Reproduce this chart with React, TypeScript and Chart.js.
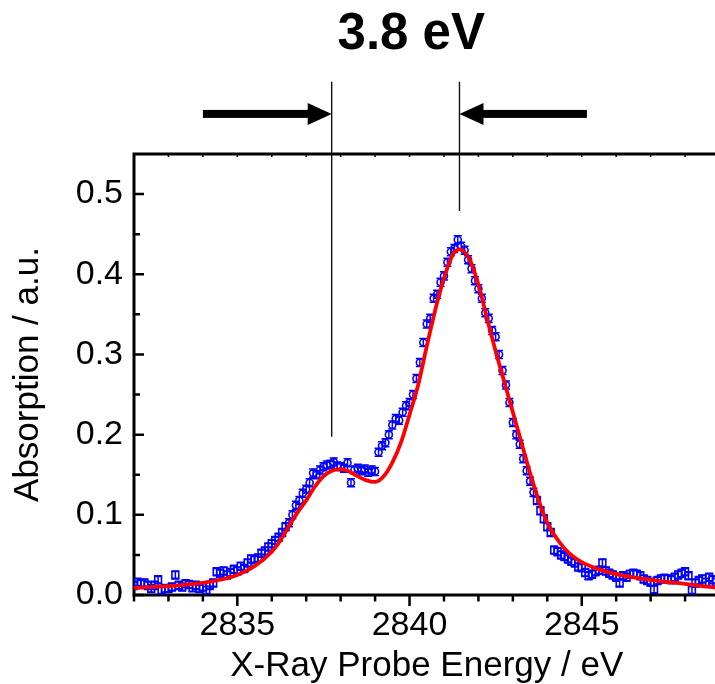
import React, { useEffect, useRef } from "react";
import { Chart, registerables } from "chart.js";

Chart.register(...registerables);

// ---------- data ----------
const probeEnergy = [
  2832.0, 2832.1, 2832.2, 2832.3, 2832.4, 2832.5, 2832.6, 2832.7, 2832.8, 2832.9,
  2833.0, 2833.1, 2833.2, 2833.3, 2833.4, 2833.5, 2833.6, 2833.7, 2833.8, 2833.9,
  2834.0, 2834.1, 2834.2, 2834.3, 2834.4, 2834.5, 2834.6, 2834.7, 2834.8, 2834.9,
  2835.0, 2835.1, 2835.2, 2835.3, 2835.4, 2835.5, 2835.6, 2835.7, 2835.8, 2835.9,
  2836.0, 2836.1, 2836.2, 2836.3, 2836.4, 2836.5, 2836.6, 2836.7, 2836.8, 2836.9,
  2837.0, 2837.1, 2837.2, 2837.3, 2837.4, 2837.5, 2837.6, 2837.7, 2837.8, 2837.9,
  2838.0, 2838.1, 2838.2, 2838.3, 2838.4, 2838.5, 2838.6, 2838.7, 2838.8, 2838.9,
  2839.0, 2839.1, 2839.2, 2839.3, 2839.4, 2839.5, 2839.6, 2839.7, 2839.8, 2839.9,
  2840.0, 2840.1, 2840.2, 2840.3, 2840.4, 2840.5, 2840.6, 2840.7, 2840.8, 2840.9,
  2841.0, 2841.1, 2841.2, 2841.3, 2841.4, 2841.5, 2841.6, 2841.7, 2841.8, 2841.9,
  2842.0, 2842.1, 2842.2, 2842.3, 2842.4, 2842.5, 2842.6, 2842.7, 2842.8, 2842.9,
  2843.0, 2843.1, 2843.2, 2843.3, 2843.4, 2843.5, 2843.6, 2843.7, 2843.8, 2843.9,
  2844.0, 2844.1, 2844.2, 2844.3, 2844.4, 2844.5, 2844.6, 2844.7, 2844.8, 2844.9,
  2845.0, 2845.1, 2845.2, 2845.3, 2845.4, 2845.5, 2845.6, 2845.7, 2845.8, 2845.9,
  2846.0, 2846.1, 2846.2, 2846.3, 2846.4, 2846.5, 2846.6, 2846.7, 2846.8, 2846.9,
  2847.0, 2847.1, 2847.2, 2847.3, 2847.4, 2847.5, 2847.6, 2847.7, 2847.8, 2847.9,
  2848.0, 2848.1, 2848.2, 2848.3, 2848.4, 2848.5, 2848.6, 2848.7, 2848.8, 2848.9,
];

const measuredAbsorption = [
  0.012, 0.016, 0.014, 0.015, 0.012, 0.008, 0.012, 0.019, 0.006, 0.008,
  0.008, 0.010, 0.025, 0.012, 0.010, 0.014, 0.013, 0.009, 0.012, 0.008,
  0.010, 0.006, 0.012, 0.015, 0.029, 0.027, 0.030, 0.025, 0.028, 0.032,
  0.030, 0.036, 0.033, 0.040, 0.045, 0.044, 0.046, 0.052, 0.055, 0.060,
  0.064, 0.068, 0.072, 0.078, 0.085, 0.090, 0.100, 0.112, 0.118, 0.127,
  0.132, 0.140, 0.152, 0.150, 0.156, 0.160, 0.162, 0.163, 0.166, 0.161,
  0.160, 0.158, 0.165, 0.140, 0.156, 0.158, 0.155, 0.157, 0.153, 0.156,
  0.154, 0.178, 0.186, 0.190, 0.200, 0.212, 0.220, 0.218, 0.228, 0.236,
  0.240, 0.250, 0.270, 0.290, 0.315, 0.338, 0.345, 0.370, 0.375, 0.390,
  0.398, 0.415, 0.428, 0.432, 0.443, 0.435, 0.430, 0.418, 0.407, 0.392,
  0.382, 0.370, 0.352, 0.345, 0.330, 0.322, 0.300, 0.280, 0.262, 0.240,
  0.215, 0.200, 0.188, 0.170, 0.155, 0.142, 0.128, 0.118, 0.105, 0.095,
  0.085, 0.078, 0.056, 0.054, 0.050, 0.048, 0.045, 0.042, 0.040, 0.035,
  0.034, 0.028, 0.024, 0.026, 0.029, 0.031, 0.040, 0.030, 0.027, 0.025,
  0.022, 0.015, 0.024, 0.022, 0.026, 0.027, 0.026, 0.024, 0.020, 0.018,
  0.016, 0.007, 0.018, 0.020, 0.021, 0.020, 0.019, 0.022, 0.025, 0.027,
  0.029, 0.024, 0.006, 0.015, 0.018, 0.020, 0.016, 0.022, 0.019, 0.016,
];

const measuredError = 0.005;

const fitEnergy = [
  2832, 2833, 2834, 2834.5, 2835, 2835.5, 2836, 2836.25, 2836.5, 2836.75,
  2837, 2837.25, 2837.5, 2837.75, 2838, 2838.25, 2838.5, 2838.75, 2839, 2839.25,
  2839.5, 2839.75, 2840, 2840.25, 2840.5, 2840.75, 2841, 2841.25, 2841.45, 2841.75,
  2842, 2842.25, 2842.5, 2842.75, 2843, 2843.25, 2843.5, 2843.75, 2844, 2844.25,
  2844.5, 2844.75, 2845, 2845.5, 2846, 2846.5, 2847, 2847.5, 2848, 2848.5, 2849,
];

const fitAbsorption = [
  0.009, 0.011, 0.015, 0.019, 0.025, 0.036, 0.054, 0.068, 0.086, 0.103,
  0.118, 0.135, 0.148, 0.155, 0.157, 0.154, 0.148, 0.143, 0.141, 0.148,
  0.165, 0.190, 0.225, 0.262, 0.310, 0.356, 0.395, 0.424, 0.431, 0.418,
  0.387, 0.345, 0.304, 0.266, 0.228, 0.190, 0.152, 0.118, 0.090, 0.072,
  0.058, 0.048, 0.041, 0.032, 0.026, 0.022, 0.019, 0.016, 0.014, 0.011, 0.009,
];

// axes
const xRange = [2832, 2849];
const yRange = [0, 0.55];
const xTickLabels = [2835, 2840, 2845];
const xMinorTicks = [
  2832, 2833, 2834, 2835, 2836, 2837, 2838, 2839, 2840, 2841,
  2842, 2843, 2844, 2845, 2846, 2847, 2848, 2849,
];
const yTickLabels = [0, 0.1, 0.2, 0.3, 0.4, 0.5];
const yMinorTicks = [0.05, 0.15, 0.25, 0.35, 0.45];

// annotation (peak separation)
const guideEnergies = [2837.74, 2841.45];
const guideBottoms = [0.1975, 0.479];
const guideTop = 0.64;
const arrowTails = [2834.0, 2845.15];
const arrowLevel = 0.6;
const separationText = "3.8 eV";
const separationTextPos = [2840.05, 0.681];

const circleRange = [2836.45, 2843.65];

const FONT = "'Liberation Sans', Arial, Helvetica, sans-serif";
const BLUE = "#0000ff";
const RED = "#ff0000";

const decorPlugin = {
  id: "decor",
  beforeDatasetsDraw(chart: any) {
    const { ctx, chartArea: a, scales } = chart;
    const x = scales.x;
    const y = scales.y;
    ctx.save();
    // error bars
    ctx.beginPath();
    ctx.rect(a.left, a.top, a.right - a.left, a.bottom - a.top);
    ctx.clip();
    ctx.strokeStyle = BLUE;
    ctx.lineWidth = 1.5;
    ctx.beginPath();
    for (let i = 0; i < probeEnergy.length; i++) {
      const px = x.getPixelForValue(probeEnergy[i]);
      const y1 = y.getPixelForValue(measuredAbsorption[i] - measuredError);
      const y2 = y.getPixelForValue(measuredAbsorption[i] + measuredError);
      ctx.moveTo(px, y1);
      ctx.lineTo(px, y2);
      ctx.moveTo(px - 4, y1);
      ctx.lineTo(px + 4, y1);
      ctx.moveTo(px - 4, y2);
      ctx.lineTo(px + 4, y2);
    }
    ctx.stroke();
    ctx.restore();

    // axes frame and ticks
    ctx.save();
    ctx.strokeStyle = "#000";
    ctx.lineCap = "butt";
    ctx.lineWidth = 3;
    ctx.beginPath();
    ctx.moveTo(a.left, a.bottom + 1.5);
    ctx.lineTo(a.left, a.top - 1.5);
    ctx.moveTo(a.left - 1.5, a.top);
    ctx.lineTo(a.right + 2, a.top);
    ctx.moveTo(a.left - 1.5, a.bottom);
    ctx.lineTo(a.right + 2, a.bottom);
    ctx.stroke();

    // left ticks (inward)
    ctx.lineWidth = 2.5;
    ctx.beginPath();
    for (const v of yTickLabels) {
      const py = y.getPixelForValue(v);
      ctx.moveTo(a.left, py);
      ctx.lineTo(a.left + 10, py);
    }
    for (const v of yMinorTicks) {
      const py = y.getPixelForValue(v);
      ctx.moveTo(a.left, py);
      ctx.lineTo(a.left + 6, py);
    }
    ctx.stroke();

    // bottom ticks (outward)
    ctx.lineWidth = 2.5;
    ctx.beginPath();
    for (const v of xMinorTicks) {
      const px = x.getPixelForValue(v);
      const len = xTickLabels.includes(v) ? 11 : 6.5;
      ctx.moveTo(px, a.bottom);
      ctx.lineTo(px, a.bottom + len);
    }
    ctx.stroke();

    // top ticks (small, inward)
    ctx.lineWidth = 1.5;
    ctx.beginPath();
    for (const v of xMinorTicks) {
      const px = x.getPixelForValue(v);
      ctx.moveTo(px, a.top);
      ctx.lineTo(px, a.top + 3);
    }
    ctx.stroke();
    ctx.restore();
  },
  afterDraw(chart: any) {
    const { ctx, scales } = chart;
    const x = scales.x;
    const y = scales.y;
    ctx.save();
    // guide lines
    ctx.strokeStyle = "#111";
    ctx.lineWidth = 1.4;
    ctx.beginPath();
    for (let i = 0; i < guideEnergies.length; i++) {
      const px = x.getPixelForValue(guideEnergies[i]);
      ctx.moveTo(px, y.getPixelForValue(guideTop));
      ctx.lineTo(px, y.getPixelForValue(guideBottoms[i]));
    }
    ctx.stroke();

    // arrows
    ctx.fillStyle = "#000";
    const ay = y.getPixelForValue(arrowLevel);
    for (let i = 0; i < guideEnergies.length; i++) {
      const tip = x.getPixelForValue(guideEnergies[i]);
      const tail = x.getPixelForValue(arrowTails[i]);
      const dir = tail < tip ? 1 : -1;
      const headLen = 24;
      const headBase = tip - dir * headLen;
      ctx.fillRect(Math.min(tail, headBase + dir * 2), ay - 4, Math.abs(headBase + dir * 2 - tail), 8);
      ctx.beginPath();
      ctx.moveTo(tip, ay);
      ctx.lineTo(headBase, ay - 11);
      ctx.lineTo(headBase, ay + 11);
      ctx.closePath();
      ctx.fill();
    }

    // label
    ctx.font = `bold 51px ${FONT}`;
    ctx.textAlign = "center";
    ctx.textBaseline = "alphabetic";
    ctx.fillText(
      separationText,
      x.getPixelForValue(separationTextPos[0]),
      y.getPixelForValue(separationTextPos[1])
    );
    ctx.restore();
  },
};

export default function App() {
  const ref = useRef<HTMLCanvasElement>(null);
  useEffect(() => {
    if (!ref.current) return;
    const isCircle = (e: number) => e >= circleRange[0] && e <= circleRange[1];
    const chart = new Chart(ref.current, {
      type: "scatter",
      data: {
        datasets: [
          {
            label: "fit",
            type: "line",
            data: fitEnergy.map((e, i) => ({ x: e, y: fitAbsorption[i] })),
            borderColor: RED,
            borderWidth: 3.8,
            pointRadius: 0,
            cubicInterpolationMode: "monotone",
            fill: false,
            order: 0,
          } as any,
          {
            label: "data",
            data: probeEnergy.map((e, i) => ({ x: e, y: measuredAbsorption[i] })),
            showLine: false,
            pointStyle: probeEnergy.map((e) => (isCircle(e) ? "circle" : "rect")) as any,
            pointRadius: probeEnergy.map((e) => (isCircle(e) ? 3.5 : 4.8)),
            pointBorderColor: BLUE,
            pointBackgroundColor: "rgba(255,255,255,0)",
            pointBorderWidth: 1.6,
            order: 1,
          } as any,
        ],
      },
      options: {
        responsive: false,
        animation: false,
        devicePixelRatio: 1,
        layout: { padding: { top: 154, right: 10.5, bottom: 0, left: 0 } },
        plugins: {
          legend: { display: false },
          tooltip: { enabled: false },
          title: { display: false },
        },
        scales: {
          x: {
            type: "linear",
            min: xRange[0],
            max: xRange[1],
            grid: { display: false, drawTicks: false },
            border: { display: false },
            afterBuildTicks: (s: any) => {
              s.ticks = xTickLabels.map((v) => ({ value: v }));
            },
            afterFit: (s: any) => {
              s.height = 89;
            },
            ticks: {
              autoSkip: false,
              maxRotation: 0,
              padding: 10,
              color: "#000",
              font: { family: FONT, size: 34 },
              callback: (v: any) => String(v),
            },
            title: {
              display: true,
              text: "X-Ray Probe Energy / eV",
              color: "#000",
              font: { family: FONT, size: 35, lineHeight: 1.0 },
              padding: { top: 0, bottom: 0 },
            },
          },
          y: {
            type: "linear",
            min: yRange[0],
            max: yRange[1],
            grid: { display: false, drawTicks: false },
            border: { display: false },
            afterBuildTicks: (s: any) => {
              s.ticks = yTickLabels.map((v) => ({ value: v }));
            },
            afterFit: (s: any) => {
              s.width = 134;
            },
            ticks: {
              autoSkip: false,
              padding: 11,
              color: "#000",
              font: { family: FONT, size: 34 },
              callback: (v: any) => Number(v).toFixed(1),
            },
            title: {
              display: true,
              text: "Absorption / a.u.",
              color: "#000",
              font: { family: FONT, size: 35 },
              padding: { top: 7, bottom: 0 },
            },
          },
        },
      },
      plugins: [decorPlugin],
    });
    return () => chart.destroy();
  }, []);

  return (
    <div
      style={{
        position: "fixed",
        left: 0,
        top: 0,
        width: 715,
        height: 684,
        overflow: "hidden",
        background: "#fff",
      }}
    >
      <canvas ref={ref} width={730} height={684} style={{ display: "block", width: 730, height: 684 }} />
    </div>
  );
}
